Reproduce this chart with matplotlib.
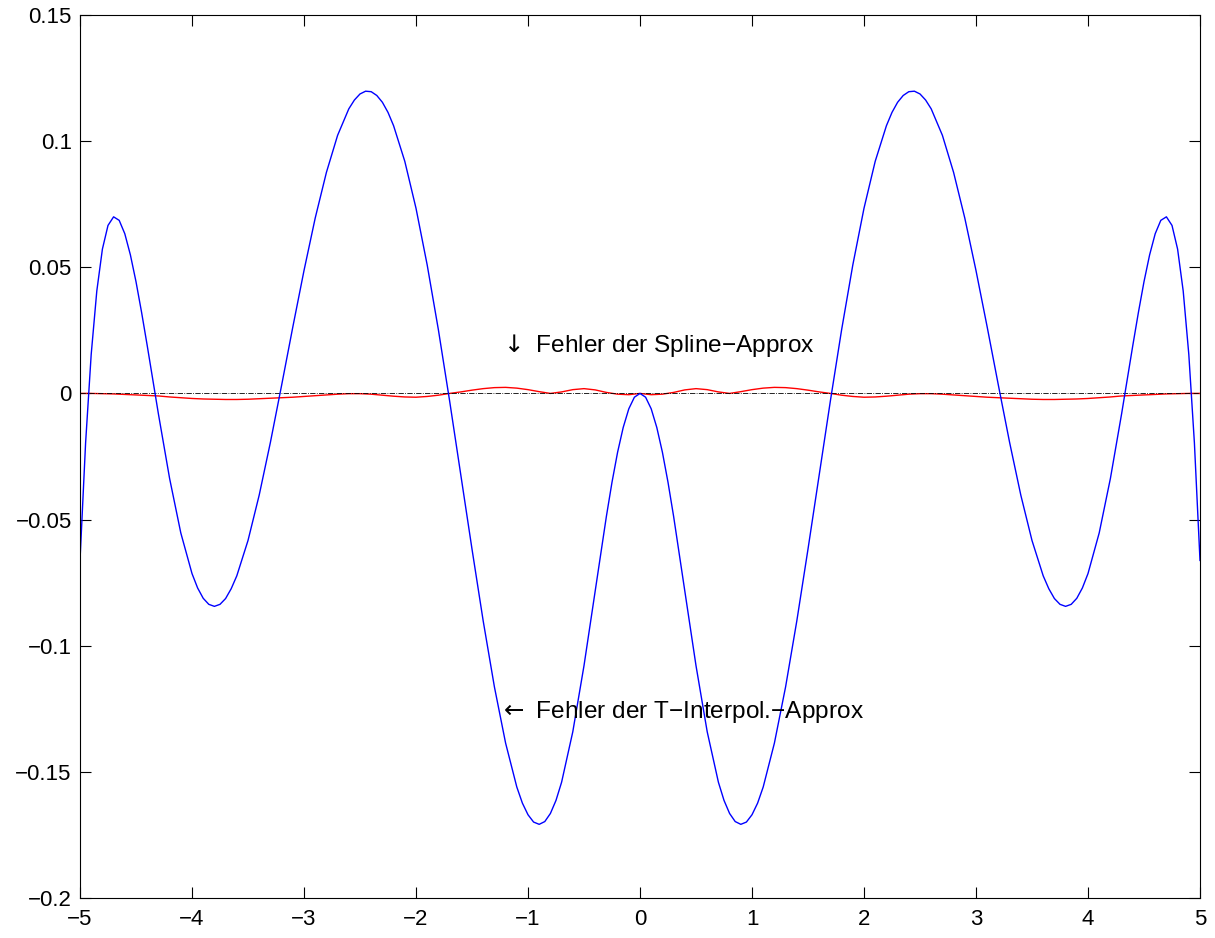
import matplotlib.pyplot as plt
import numpy as np

plt.rcParams["font.family"] = ["Liberation Sans", "DejaVu Sans"]

# error of the T-interpolation (blue)
x_t = [-5.0, -4.95, -4.9, -4.85, -4.8, -4.75, -4.7, -4.65, -4.6, -4.55,
       -4.5, -4.45, -4.4, -4.3, -4.2, -4.1, -4.0, -3.95, -3.9, -3.85,
       -3.8, -3.75, -3.7, -3.65, -3.6, -3.5, -3.4, -3.3, -3.2, -3.1,
       -3.0, -2.9, -2.8, -2.7, -2.6, -2.55, -2.5, -2.45, -2.4, -2.35,
       -2.3, -2.25, -2.2, -2.1, -2.0, -1.9, -1.8, -1.7, -1.6, -1.5,
       -1.4, -1.3, -1.2, -1.1, -1.05, -1.0, -0.95, -0.9, -0.85, -0.8,
       -0.75, -0.7, -0.6, -0.5, -0.4, -0.3, -0.25, -0.2, -0.15, -0.1,
       -0.05, 0.0, 0.05, 0.1, 0.15, 0.2, 0.25, 0.3, 0.4, 0.5,
       0.6, 0.7, 0.75, 0.8, 0.85, 0.9, 0.95, 1.0, 1.05, 1.1,
       1.2, 1.3, 1.4, 1.5, 1.6, 1.7, 1.8, 1.9, 2.0, 2.1,
       2.2, 2.25, 2.3, 2.35, 2.4, 2.45, 2.5, 2.55, 2.6, 2.7,
       2.8, 2.9, 3.0, 3.1, 3.2, 3.3, 3.4, 3.5, 3.6, 3.65,
       3.7, 3.75, 3.8, 3.85, 3.9, 3.95, 4.0, 4.1, 4.2, 4.3,
       4.4, 4.45, 4.5, 4.55, 4.6, 4.65, 4.7, 4.75, 4.8, 4.85,
       4.9, 4.95, 5.0]
err_t = [-0.0662, -0.0196, 0.0155, 0.0406, 0.0572, 0.0666, 0.0700, 0.0686, 0.0633, 0.0549,
         0.0443, 0.0321, 0.0190, -0.0081, -0.0337, -0.0553, -0.0714, -0.0771, -0.0812, -0.0836,
         -0.0844, -0.0836, -0.0813, -0.0774, -0.0723, -0.0583, -0.0403, -0.0194, 0.0032, 0.0263,
         0.0487, 0.0695, 0.0876, 0.1023, 0.1128, 0.1163, 0.1187, 0.1198, 0.1196, 0.1181,
         0.1154, 0.1114, 0.1061, 0.0920, 0.0734, 0.0509, 0.0252, -0.0029, -0.0322, -0.0617,
         -0.0902, -0.1163, -0.1386, -0.1560, -0.1624, -0.1670, -0.1699, -0.1708, -0.1697, -0.1665,
         -0.1613, -0.1541, -0.1341, -0.1079, -0.0783, -0.0487, -0.0352, -0.0233, -0.0135, -0.0061,
         -0.0015, 0.0, -0.0015, -0.0061, -0.0135, -0.0233, -0.0352, -0.0487, -0.0783, -0.1079,
         -0.1341, -0.1541, -0.1613, -0.1665, -0.1697, -0.1708, -0.1699, -0.1670, -0.1624, -0.1560,
         -0.1386, -0.1163, -0.0902, -0.0617, -0.0322, -0.0029, 0.0252, 0.0509, 0.0734, 0.0920,
         0.1061, 0.1114, 0.1154, 0.1181, 0.1196, 0.1198, 0.1187, 0.1163, 0.1128, 0.1023,
         0.0876, 0.0695, 0.0487, 0.0263, 0.0032, -0.0194, -0.0403, -0.0583, -0.0723, -0.0774,
         -0.0813, -0.0836, -0.0844, -0.0836, -0.0812, -0.0771, -0.0714, -0.0553, -0.0337, -0.0081,
         0.0190, 0.0321, 0.0443, 0.0549, 0.0633, 0.0686, 0.0700, 0.0666, 0.0572, 0.0406,
         0.0155, -0.0196, -0.0662]

# error of the spline approximation (red)
x_s = np.linspace(-5, 5, 101)
err_s = [0.0, 0.0, -0.0001, -0.0002, -0.0004, -0.0006, -0.0008, -0.0010, -0.0014, -0.0017,
         -0.0020, -0.0022, -0.0023, -0.0024, -0.0024, -0.0023, -0.0021, -0.0019, -0.0017, -0.0015,
         -0.0012, -0.0009, -0.0006, -0.0003, -0.0001, -0.0001, -0.0003, -0.0007, -0.0011, -0.0014,
         -0.0015, -0.0012, -0.0007, 0.0, 0.0006, 0.0013, 0.0019, 0.0023, 0.0024, 0.0021,
         0.0015, 0.0007, 0.0, 0.0006, 0.0015, 0.0019, 0.0014, 0.0004, -0.0003, -0.0005,
         0.0,
         -0.0005, -0.0003, 0.0004, 0.0014, 0.0019, 0.0015, 0.0006, 0.0, 0.0007, 0.0015,
         0.0021, 0.0024, 0.0023, 0.0019, 0.0013, 0.0006, 0.0, -0.0007, -0.0012, -0.0015,
         -0.0014, -0.0011, -0.0007, -0.0003, -0.0001, -0.0001, -0.0003, -0.0006, -0.0009, -0.0012,
         -0.0015, -0.0017, -0.0019, -0.0021, -0.0023, -0.0024, -0.0024, -0.0023, -0.0022, -0.0020,
         -0.0017, -0.0014, -0.0010, -0.0008, -0.0006, -0.0004, -0.0002, -0.0001, 0.0, 0.0]

x_zero = [-5, 5]
y_zero = [0, 0]

xticks = [-5, -4, -3, -2, -1, 0, 1, 2, 3, 4, 5]
yticks = [-0.2, -0.15, -0.1, -0.05, 0, 0.05, 0.1, 0.15]
ylabels = ["\u22120.2", "\u22120.15", "\u22120.1", "\u22120.05", "0", "0.05", "0.1", "0.15"]

fig = plt.figure(figsize=(12.15, 9.38), dpi=100)
ax = fig.add_axes([80 / 1215, 40 / 938, 1120 / 1215, 883 / 938])

ax.plot(x_s, err_s, color="#ff0000", lw=1.0)
ax.plot(x_zero, y_zero, color="k", ls="-.", lw=0.6)
ax.plot(x_t, err_t, color="#0000ff", lw=1.0)

ax.text(-1.26, 0.019, r"$\downarrow$ Fehler der Spline" + "\u2212Approx",
        fontsize=17.6, va="center", ha="left")
ax.text(-1.26, -0.1262, r"$\leftarrow$ Fehler der T" + "\u2212Interpol.\u2212Approx",
        fontsize=17.6, va="center", ha="left")

ax.set_xlim(-5, 5)
ax.set_ylim(-0.2, 0.15)
ax.set_xticks(xticks)
ax.set_xticklabels([str(t).replace("-", "\u2212") for t in xticks])
ax.set_yticks(yticks)
ax.set_yticklabels(ylabels)
ax.tick_params(direction="in", length=8, width=0.8, labelsize=16, top=True, right=True)
ax.tick_params(axis="x", pad=8)
ax.tick_params(axis="y", pad=6)
for s in ax.spines.values():
    s.set_linewidth(0.8)

fig.savefig("out.png", dpi=100)
